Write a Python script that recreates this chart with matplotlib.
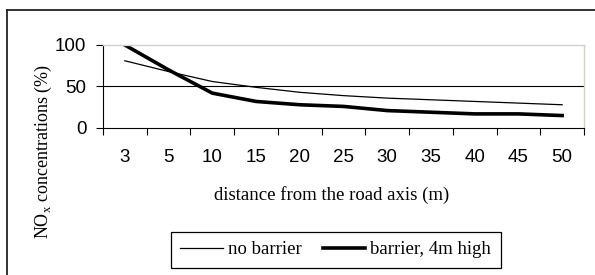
import numpy as np
import matplotlib
matplotlib.use("Agg")
import matplotlib.pyplot as plt
from matplotlib.lines import Line2D

plt.rcParams["mathtext.fontset"] = "custom"
plt.rcParams["mathtext.rm"] = "Liberation Serif"

# ====== DATA ======
distances = ["3", "5", "10", "15", "20", "25", "30", "35", "40", "45", "50"]
no_barrier = [81, 68, 56, 49, 43, 39, 36, 34, 32, 30, 28]
barrier_4m = [100, 70, 42, 32, 28, 26, 21, 19, 17, 17, 15]
# ==================

W, H = 595, 275
fig = plt.figure(figsize=(W / 100, H / 100), dpi=100)

# outer frame (only top and left edges are visible)
fig.add_artist(Line2D([7 / W, 7 / W], [0, 1 - 10 / H], color="#222222", lw=1.3,
                      transform=fig.transFigure))
fig.add_artist(Line2D([7 / W, 1], [1 - 10 / H, 1 - 10 / H], color="#222222", lw=1.3,
                      transform=fig.transFigure))

ax = fig.add_axes([103 / W, 1 - 128 / H, (584 - 103) / W, (128 - 45) / H])
x = np.arange(len(distances))
ax.plot(x, no_barrier, color="black", lw=0.9, label="no barrier")
ax.plot(x, barrier_4m, color="black", lw=2.6, label="barrier, 4m high")

ax.set_xlim(-0.5, len(distances) - 0.5)
ax.set_ylim(0, 100)
ax.set_yticks([0, 50, 100])
ax.axhline(50, color="black", lw=0.8, zorder=0)

ax.set_xticks(x)
ax.set_xticklabels(distances, fontfamily="Liberation Sans", fontsize=13.5)
ax.set_xticks(np.arange(len(distances) + 1) - 0.5, minor=True)
ax.tick_params(axis="x", which="major", length=0, pad=15)
ax.tick_params(axis="x", which="minor", length=5, width=0.8, direction="out")
ax.tick_params(axis="y", length=5, width=0.8, pad=7)
for lab in ax.get_yticklabels():
    lab.set_fontfamily("Liberation Sans")
    lab.set_fontsize(13.5)

for side in ["top", "right"]:
    ax.spines[side].set_color("#d4d0c8")
    ax.spines[side].set_linewidth(1.0)
for side in ["left", "bottom"]:
    ax.spines[side].set_color("black")
    ax.spines[side].set_linewidth(0.8)

fig.text(332 / W, 1 - 195 / H, "distance from the road axis (m)",
         ha="center", va="center", fontfamily="Liberation Serif", fontsize=13.5)
fig.text(43 / W, 1 - 151 / H, r"NO$_\mathregular{x}$ concentrations (%)",
         ha="center", va="center", rotation=90,
         fontfamily="Liberation Serif", fontsize=13)

leg = fig.legend(loc="upper left", bbox_to_anchor=(171 / W, 1 - 232 / H), ncol=2,
                 frameon=True, fancybox=False, edgecolor="black", framealpha=1,
                 prop={"family": "Liberation Serif", "size": 13.5},
                 handlelength=2.25, handletextpad=0.3, columnspacing=1.1,
                 borderpad=0.5, borderaxespad=0)
leg.get_frame().set_linewidth(0.9)

fig.savefig("out.png", dpi=100)
